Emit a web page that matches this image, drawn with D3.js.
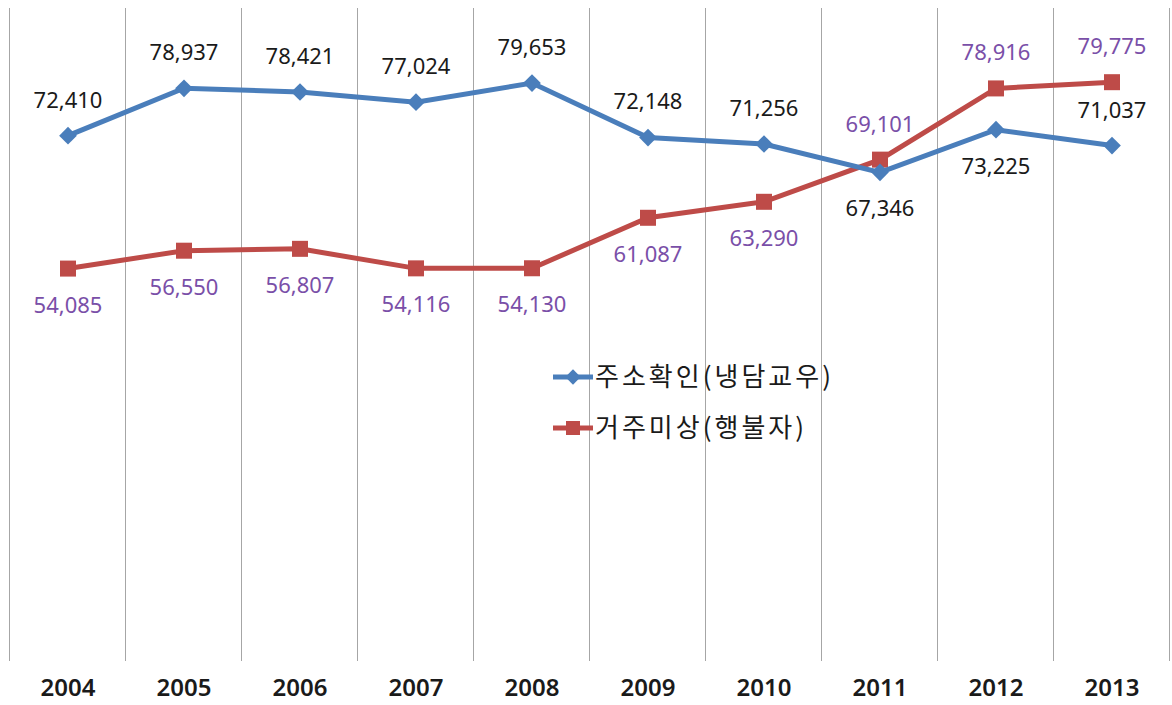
<!DOCTYPE html>
<html>
<head>
<meta charset="utf-8">
<script src="https://cdn.jsdelivr.net/npm/d3@7"></script>
<style>
  body { margin: 0; background: #fff; }
  svg { display: block; }
</style>
</head>
<body>
<svg id="viz_area" width="1172" height="705"></svg>
<script>
// data
const years = ["2004", "2005", "2006", "2007", "2008", "2009", "2010", "2011", "2012", "2013"];
const confirmed = [72410, 78937, 78421, 77024, 79653, 72148, 71256, 67346, 73225, 71037];
const unknown = [54085, 56550, 56807, 54116, 54130, 61087, 63290, 69101, 78916, 79775];
const seriesNames = ["주소확인(냉담교우)", "거주미상(행불자)"];
// where the value label sits: 1 = above the point, -1 = below
const confirmedSide = [1, 1, 1, 1, 1, 1, 1, -1, -1, 1];
const unknownSide = [-1, -1, -1, -1, -1, -1, -1, 1, 1, 1];

const svg = d3.select("#viz_area");
const margin = {top: 8, right: 2, bottom: 44, left: 10};
const width = 1172 - margin.left - margin.right,
      height = 705 - margin.top - margin.bottom;

const g = svg.append("g")
    .attr("transform", "translate(" + margin.left + "," + margin.top + ")");

const x = d3.scaleBand()
    .domain(years)
    .range([0, width]);

const y = d3.scaleLinear()
    .domain([0, 90000])
    .range([height, 0]);

// vertical gridlines at category boundaries
const bounds = years.map(d => x(d)).concat([width]);
g.selectAll("line.grid")
    .data(bounds)
    .enter()
    .append("line")
    .attr("class", "grid")
    .attr("x1", d => d - 0.5)
    .attr("x2", d => d - 0.5)
    .attr("y1", 0)
    .attr("y2", height)
    .attr("stroke", "#a6a6a6")
    .attr("stroke-width", 1);

// x axis labels
const xAxis = g.append("g")
    .attr("transform", "translate(0," + height + ")")
    .call(d3.axisBottom(x).tickSize(0).tickPadding(18));
xAxis.select(".domain").remove();
xAxis.selectAll("text")
    .attr("font-family", "'Noto Sans', sans-serif")
    .attr("font-weight", 600)
    .attr("font-size", "24px")
    .attr("fill", "#1a1a1a");

const cx = d => x(d) + x.bandwidth() / 2;
const line = d3.line()
    .x((d, i) => cx(years[i]))
    .y(d => y(d));

const blue = "#4a7ebb", red = "#be4b48";

// red series
g.append("path")
    .datum(unknown)
    .attr("d", line)
    .attr("fill", "none")
    .attr("stroke", red)
    .attr("stroke-width", 5);
g.selectAll("rect.m")
    .data(unknown)
    .enter()
    .append("rect")
    .attr("class", "m")
    .attr("x", (d, i) => cx(years[i]) - 8)
    .attr("y", d => y(d) - 8)
    .attr("width", 16)
    .attr("height", 16)
    .attr("fill", red);

// blue series
g.append("path")
    .datum(confirmed)
    .attr("d", line)
    .attr("fill", "none")
    .attr("stroke", blue)
    .attr("stroke-width", 5);
g.selectAll("path.m")
    .data(confirmed)
    .enter()
    .append("path")
    .attr("class", "m")
    .attr("d", d3.symbol(d3.symbolDiamond2, 200))
    .attr("transform", (d, i) => "translate(" + cx(years[i]) + "," + y(d) + ")")
    .attr("fill", blue);

// value labels
const fmt = d3.format(",");
const addLabels = (vals, sides, color) => {
    g.selectAll(null)
        .data(vals)
        .enter()
        .append("text")
        .attr("x", (d, i) => cx(years[i]))
        .attr("y", (d, i) => y(d) - sides[i] * 36)
        .attr("dy", "0.36em")
        .attr("text-anchor", "middle")
        .attr("font-family", "'Noto Sans', sans-serif")
        .attr("font-size", "22px")
        .attr("fill", color)
        .text(d => fmt(d));
};
addLabels(confirmed, confirmedSide, "#1a1a1a");
addLabels(unknown, unknownSide, "#7a4fa8");

// legend
const legend = svg.append("g").attr("transform", "translate(553,377)");
const items = [{name: seriesNames[0], color: blue, shape: "diamond"},
               {name: seriesNames[1], color: red, shape: "square"}];
items.forEach((it, i) => {
    const row = legend.append("g").attr("transform", "translate(0," + i * 51 + ")");
    row.append("line")
        .attr("x1", 0).attr("x2", 40)
        .attr("stroke", it.color).attr("stroke-width", 5);
    if (it.shape === "diamond") {
        row.append("path")
            .attr("d", d3.symbol(d3.symbolDiamond2, 150))
            .attr("transform", "translate(20,0)")
            .attr("fill", it.color);
    } else {
        row.append("rect")
            .attr("x", 13).attr("y", -7).attr("width", 14).attr("height", 14)
            .attr("fill", it.color);
    }
    row.append("text")
        .attr("x", 42)
        .attr("dy", "0.36em")
        .attr("font-family", "'Noto Sans CJK KR', sans-serif")
        .attr("font-size", "26px")
        .attr("letter-spacing", "3px")
        .attr("fill", "#1a1a1a")
        .text(it.name);
});
</script>
</body>
</html>
